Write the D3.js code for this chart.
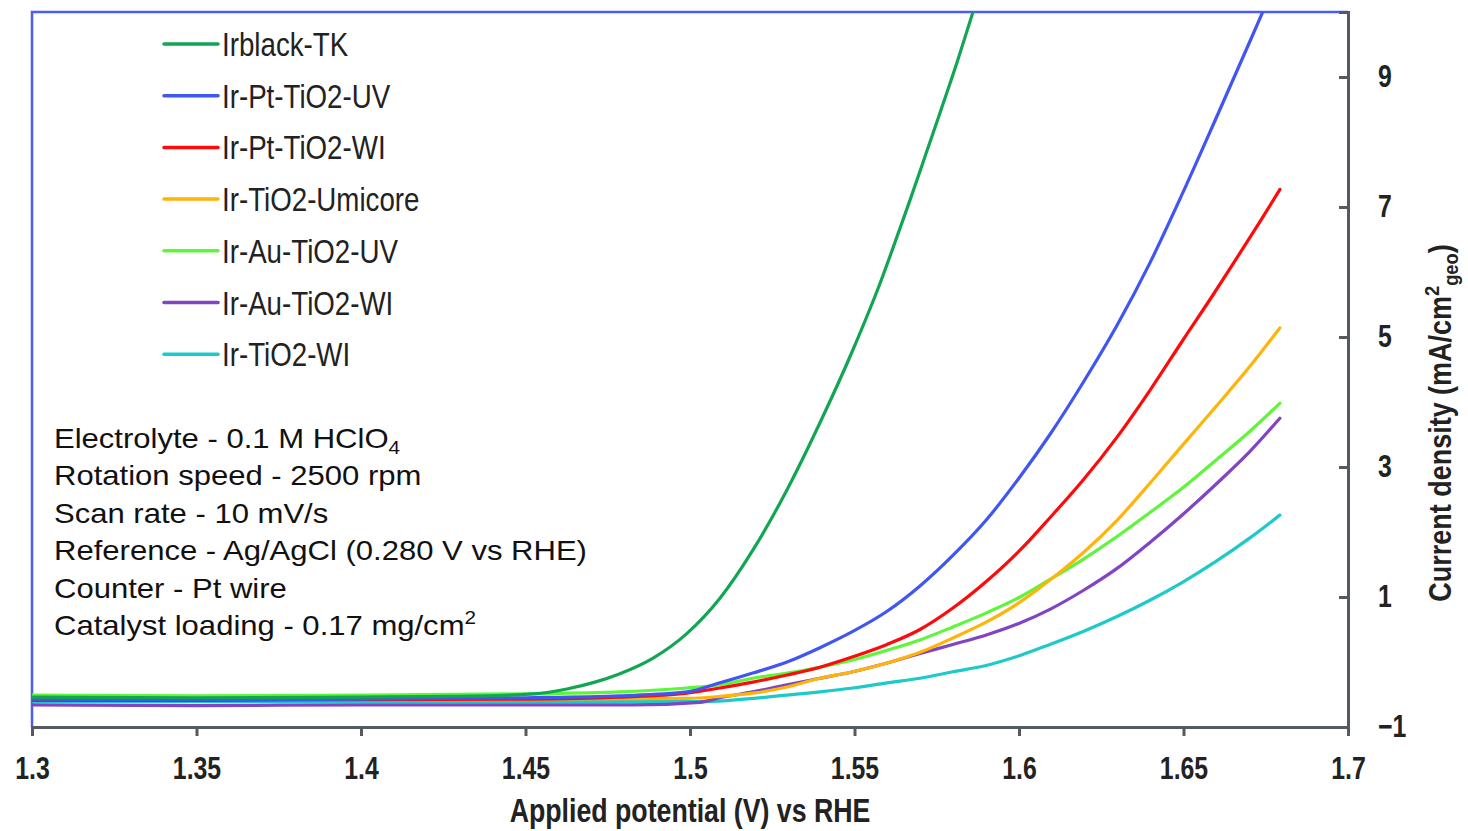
<!DOCTYPE html>
<html>
<head>
<meta charset="utf-8">
<script src="https://cdn.jsdelivr.net/npm/d3@7"></script>
<style>
  body { margin: 0; background: #fff; }
  svg { display: block; }
</style>
</head>
<body>
<svg id="chart" width="1468" height="831"></svg>
<script>
// polarisation curves: [potential V vs RHE, current density mA/cm2]
const irblackTK = [[1.30, -0.54], [1.35, -0.55], [1.40, -0.54], [1.43, -0.53], [1.4523, -0.49], [1.4626, -0.415], [1.4711, -0.31],
  [1.4787, -0.18], [1.4888, 0.06], [1.4991, 0.44], [1.5091, 0.98], [1.5191, 1.72], [1.5295, 2.65], [1.5395, 3.68],
  [1.5495, 4.8], [1.5578, 5.83], [1.5629, 6.54], [1.5669, 7.11], [1.572, 7.86], [1.576, 8.45], [1.5812, 9.23],
  [1.5857, 9.95], [1.5869, 10.14]];
const irPtTiO2UV = [[1.30, -0.57], [1.35, -0.58], [1.40, -0.57], [1.45, -0.55], [1.4787, -0.52], [1.4991, -0.46],
  [1.5091, -0.32], [1.5191, -0.17], [1.5295, 0.0], [1.5395, 0.22], [1.5495, 0.47], [1.5599, 0.78], [1.5699, 1.17],
  [1.5799, 1.64], [1.5903, 2.2], [1.6003, 2.85], [1.6094, 3.5], [1.6195, 4.3], [1.6298, 5.18], [1.6398, 6.14],
  [1.6498, 7.22], [1.6602, 8.4], [1.6702, 9.55], [1.6745, 10.05]];
const irPtTiO2WI = [[1.30, -0.59], [1.35, -0.59], [1.40, -0.58], [1.45, -0.57], [1.4787, -0.54], [1.4991, -0.48],
  [1.5091, -0.4], [1.5191, -0.31], [1.5295, -0.2], [1.5395, -0.08], [1.5495, 0.08], [1.5599, 0.27], [1.5699, 0.5],
  [1.5799, 0.83], [1.5903, 1.25], [1.6003, 1.72], [1.6094, 2.22], [1.6195, 2.8], [1.6298, 3.46], [1.6398, 4.18],
  [1.6498, 4.95], [1.659, 5.65], [1.665, 6.12], [1.6733, 6.78], [1.6793, 7.27]];
const irTiO2Umicore = [[1.30, -0.57], [1.35, -0.58], [1.40, -0.58], [1.45, -0.57], [1.4991, -0.56], [1.5091, -0.53],
  [1.5191, -0.48], [1.5295, -0.385], [1.5395, -0.25], [1.5495, -0.15], [1.5599, -0.015], [1.5699, 0.15],
  [1.5799, 0.37], [1.5903, 0.62], [1.6003, 0.92], [1.6094, 1.26], [1.6195, 1.68], [1.6298, 2.18], [1.6398, 2.75],
  [1.6498, 3.34], [1.6602, 3.95], [1.6702, 4.55], [1.6793, 5.14]];
const irAuTiO2UV = [[1.30, -0.51], [1.35, -0.52], [1.40, -0.51], [1.45, -0.49], [1.4787, -0.46], [1.4991, -0.4],
  [1.5091, -0.35], [1.5191, -0.25], [1.5295, -0.17], [1.5395, -0.08], [1.5495, 0.03], [1.5599, 0.18], [1.5699, 0.34],
  [1.5799, 0.54], [1.5903, 0.76], [1.6003, 1.0], [1.6094, 1.27], [1.6195, 1.58], [1.6298, 1.93], [1.6398, 2.3],
  [1.6498, 2.68], [1.6602, 3.12], [1.6702, 3.55], [1.6793, 3.98]];
const irAuTiO2WI = [[1.30, -0.66], [1.35, -0.67], [1.40, -0.66], [1.45, -0.66], [1.4827, -0.66], [1.503, -0.62],
  [1.5091, -0.55], [1.5191, -0.46], [1.5295, -0.35], [1.5395, -0.25], [1.5495, -0.15], [1.5599, -0.015],
  [1.5699, 0.13], [1.5799, 0.27], [1.5903, 0.42], [1.6003, 0.6], [1.6094, 0.81], [1.6195, 1.1], [1.6298, 1.44],
  [1.6398, 1.84], [1.6498, 2.27], [1.6602, 2.75], [1.6702, 3.24], [1.6793, 3.75]];
const irTiO2WI = [[1.30, -0.61], [1.35, -0.61], [1.40, -0.61], [1.45, -0.61], [1.503, -0.61], [1.5295, -0.51],
  [1.5395, -0.46], [1.5495, -0.4], [1.5599, -0.32], [1.5699, -0.25], [1.5799, -0.15], [1.5903, -0.05],
  [1.6003, 0.1], [1.6094, 0.27], [1.6195, 0.47], [1.6298, 0.7], [1.6398, 0.95], [1.6498, 1.23], [1.6602, 1.56],
  [1.6702, 1.91], [1.6793, 2.26]];

const seriesNames = ['Irblack-TK', 'Ir-Pt-TiO2-UV', 'Ir-Pt-TiO2-WI', 'Ir-TiO2-Umicore', 'Ir-Au-TiO2-UV', 'Ir-Au-TiO2-WI', 'Ir-TiO2-WI'];
const seriesData = [irblackTK, irPtTiO2UV, irPtTiO2WI, irTiO2Umicore, irAuTiO2UV, irAuTiO2WI, irTiO2WI];
const seriesColors = ['#12a653', '#4155f2', '#ff0a0a', '#ffb40a', '#5ef53a', '#8044c4', '#1ec9c9'];
const xTicks = [1.3, 1.35, 1.4, 1.45, 1.5, 1.55, 1.6, 1.65, 1.7];
const yTicks = [-1, 1, 3, 5, 7, 9];
const notes = ['Electrolyte - 0.1 M HClO|4', 'Rotation speed - 2500 rpm', 'Scan rate - 10 mV/s',
  'Reference - Ag/AgCl  (0.280 V vs RHE)', 'Counter - Pt wire', 'Catalyst loading  - 0.17 mg/cm^2'];

const svg = d3.select('#chart');
const sans = '"Liberation Sans", Arial, sans-serif';
const squeeze = 0.8; // no narrow face installed, so squeeze Liberation Sans instead

const plotL = 32, plotR = 1348, plotT = 12, plotB = 727;
const x = d3.scaleLinear().domain([1.3, 1.7]).range([plotL, plotR]);
const y = d3.scaleLinear().domain([-1, 10]).range([plotB, plotT]);

svg.append('clipPath').attr('id', 'plot-clip')
  .append('rect')
  .attr('x', plotL).attr('y', plotT)
  .attr('width', plotR - plotL).attr('height', plotB - plotT);

// blue frame on top and left
svg.append('path')
  .attr('d', `M${plotL},${plotB} V${plotT} H${plotR}`)
  .attr('fill', 'none')
  .attr('stroke', '#4a5cf5')
  .attr('stroke-width', 2.5);

const line = d3.line()
  .x(d => x(d[0]))
  .y(d => y(d[1]))
  .curve(d3.curveMonotoneX);

const curves = svg.append('g').attr('clip-path', 'url(#plot-clip)');
// draw from the last legend entry to the first so the upper curves stay on top
seriesData.map((d, i) => i).reverse().forEach((i) => {
  curves.append('path')
    .datum(seriesData[i])
    .attr('d', line)
    .attr('fill', 'none')
    .attr('stroke', seriesColors[i])
    .attr('stroke-width', 3.2)
    .attr('stroke-linejoin', 'round')
    .attr('stroke-linecap', 'round');
});

// bottom axis
const xAxis = svg.append('g')
  .attr('transform', `translate(0,${plotB})`)
  .call(d3.axisBottom(x).tickValues(xTicks).tickFormat(d3.format('')).tickSizeOuter(0).tickSize(9).tickPadding(21));
xAxis.select('.domain').attr('stroke', '#555a62').attr('stroke-width', 3);
xAxis.selectAll('.tick line').attr('stroke', '#555a62').attr('stroke-width', 3);
xAxis.selectAll('.tick text')
  .attr('fill', '#222')
  .attr('transform', `scale(${squeeze},1)`)
  .style('font-family', sans)
  .style('font-size', '31px')
  .style('font-weight', 'bold');

// right axis, ticks pointing inwards
const yAxis = svg.append('g')
  .attr('transform', `translate(${plotR},0)`)
  .call(d3.axisRight(y).tickValues(yTicks).tickSizeOuter(0).tickSize(-9));
yAxis.select('.domain').attr('stroke', '#555a62').attr('stroke-width', 3);
yAxis.selectAll('.tick line').attr('stroke', '#555a62').attr('stroke-width', 3);
yAxis.selectAll('.tick text')
  .attr('x', 30 / squeeze)
  .attr('fill', '#222')
  .attr('transform', `scale(${squeeze},1)`)
  .style('font-family', sans)
  .style('font-size', '31px')
  .style('font-weight', 'bold');

svg.append('text')
  .attr('transform', `translate(${(plotL + plotR) / 2},822) scale(0.81,1)`)
  .attr('text-anchor', 'middle')
  .attr('fill', '#222')
  .style('font-family', sans)
  .style('font-size', '33px')
  .style('font-weight', 'bold')
  .text('Applied potential (V) vs RHE');

const yTitle = svg.append('text')
  .attr('transform', 'translate(1451,423) rotate(-90) scale(0.87,1)')
  .attr('text-anchor', 'middle')
  .attr('fill', '#222')
  .style('font-family', sans)
  .style('font-size', '31px')
  .style('font-weight', 'bold');
yTitle.append('tspan').text('Current density (mA/cm');
yTitle.append('tspan').attr('dy', -12).style('font-size', '21px').text('2');
yTitle.append('tspan').attr('dy', 19).style('font-size', '21px').text('geo');
yTitle.append('tspan').attr('dy', -7).text(')');

// legend
const legend = svg.append('g');
seriesNames.forEach((name, i) => {
  const ly = 44 + i * 51.7;
  legend.append('line')
    .attr('x1', 164).attr('x2', 218)
    .attr('y1', ly).attr('y2', ly)
    .attr('stroke', seriesColors[i])
    .attr('stroke-width', 3.5)
    .attr('stroke-linecap', 'round');
  legend.append('text')
    .attr('transform', `translate(222,${ly + 12}) scale(0.815,1)`)
    .attr('fill', '#222')
    .style('font-family', sans)
    .style('font-size', '34px')
    .text(name);
});

// experimental conditions
notes.forEach((note, i) => {
  const t = svg.append('text')
    .attr('transform', `translate(54,${448 + i * 37.4}) scale(1.15,1)`)
    .attr('fill', '#111')
    .style('font-family', sans)
    .style('font-size', '27px');
  if (note.includes('|')) {
    const [main, sub] = note.split('|');
    t.append('tspan').text(main);
    t.append('tspan').attr('dy', 6).style('font-size', '18px').text(sub);
  } else if (note.includes('^')) {
    const [main, sup] = note.split('^');
    t.append('tspan').text(main);
    t.append('tspan').attr('dy', -11).style('font-size', '18px').text(sup);
  } else {
    t.text(note);
  }
});
</script>
</body>
</html>
